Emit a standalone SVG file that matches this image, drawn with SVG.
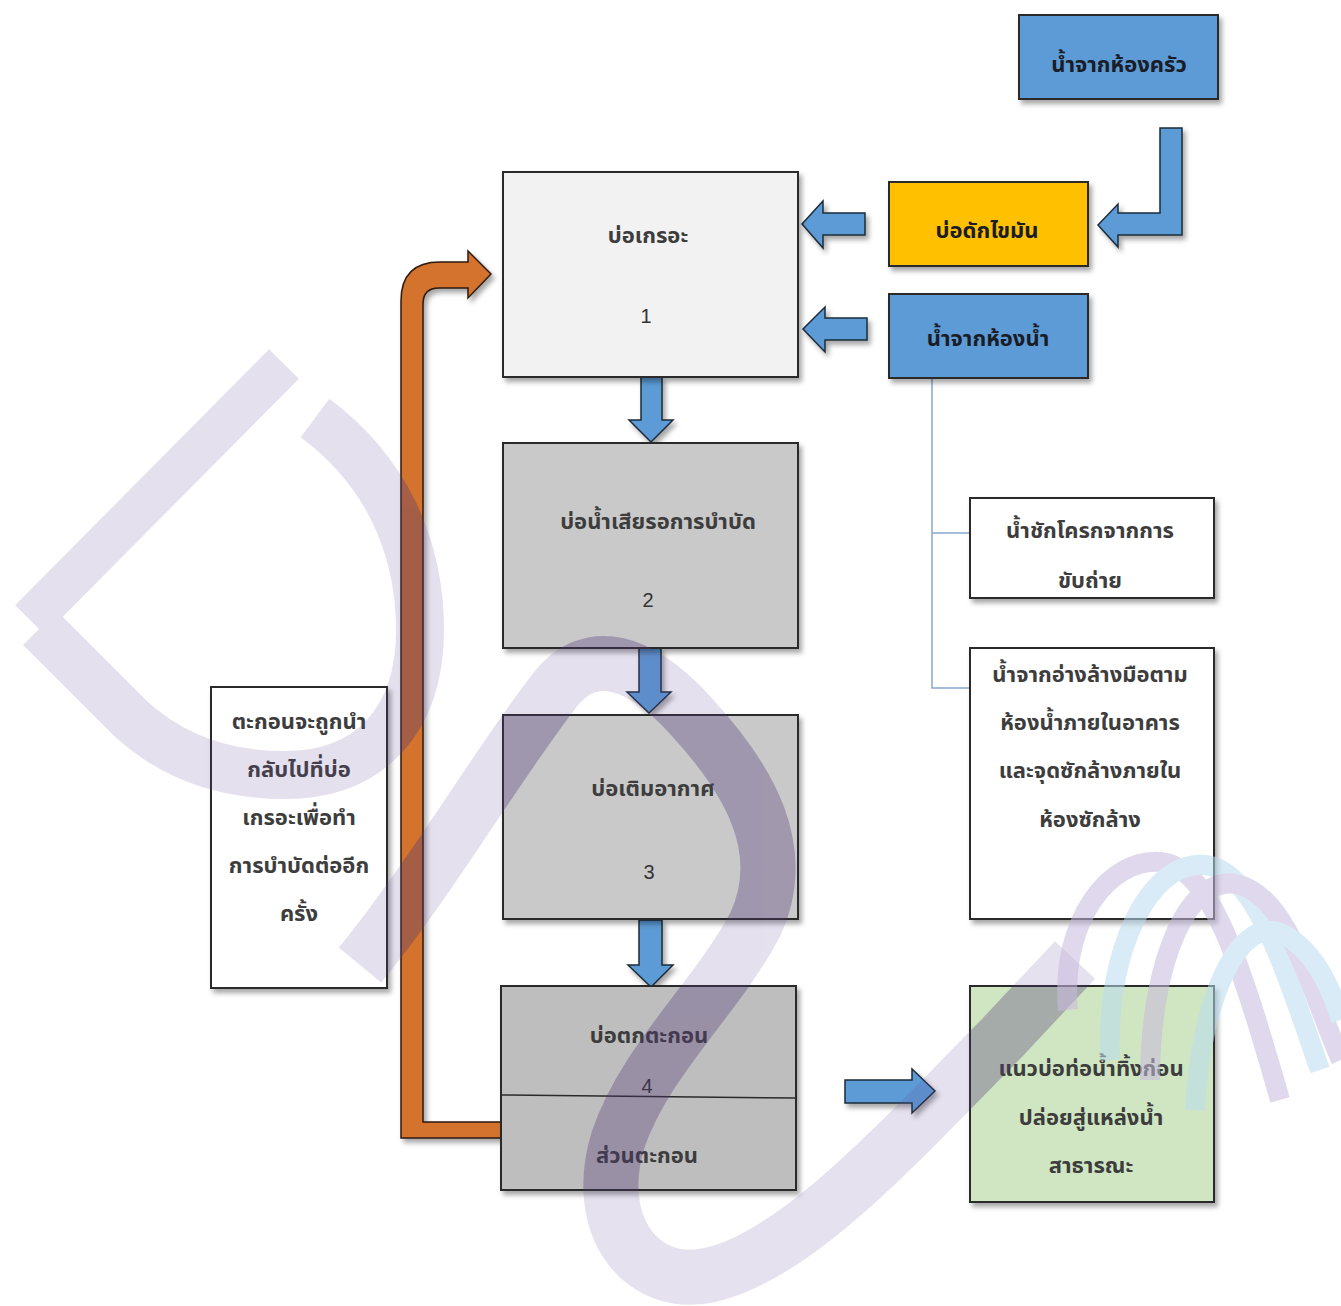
<svg xmlns="http://www.w3.org/2000/svg" xmlns:xlink="http://www.w3.org/1999/xlink" width="1341" height="1306" viewBox="0 0 1341 1306">
<style>
.box{stroke:#2a2a2a;stroke-width:2;filter:url(#sh);}
.arr{fill:#5b9bd5;stroke:#1e2b3a;stroke-width:1.5;stroke-linejoin:miter;filter:url(#sh);}
.pipe{fill:#d3732d;stroke:#2e1a0e;stroke-width:1.5;filter:url(#sh);}
.t{font-family:"Noto Sans Thai","Leelawadee UI",Tahoma,"DejaVu Sans",sans-serif;font-size:22px;font-weight:bold;fill:#3d3d3d;text-anchor:middle;}
.n{font-family:"Liberation Sans",Arial,sans-serif;font-size:20px;fill:#333;text-anchor:middle;}
.tb{fill:#1a1d28;}
.conn{fill:none;stroke:#86a8d0;stroke-width:1.5;}
</style>
<defs>
<filter id="sh" x="-10%" y="-10%" width="130%" height="130%">
<feDropShadow dx="3" dy="4" stdDeviation="2.5" flood-color="#000" flood-opacity="0.35"/>
</filter>
<clipPath id="boxclip">
<rect x="503" y="443" width="295" height="205"/>
<rect x="503" y="715" width="295" height="204"/>
<rect x="501" y="986" width="295" height="204"/>
<rect x="970" y="986" width="244" height="216"/>
<rect x="401" y="250" width="22" height="890"/>
<rect x="401" y="1122" width="100" height="16"/>
</clipPath>
<g id="wmShapes" fill="none">
<path d="M 284,364 L 30,620" stroke-width="42"/>
<path d="M 315,418 C 385,470 420,545 420,630 C 420,720 370,775 285,775 C 220,775 170,755 130,718 L 40,628" stroke-width="48"/>
<path d="M 360,965 C 430,880 500,760 555,690 C 590,645 640,660 690,715 C 750,780 790,850 755,925 C 715,1000 645,1060 618,1140 C 592,1225 640,1290 710,1275 C 800,1255 910,1130 1000,1040 L 1075,960" stroke-width="55"/>
</g>
</defs>
<rect width="1341" height="1306" fill="#ffffff"/>

<g id="connectors">
<path class="conn" d="M 932,378 V 688 H 969 M 932,533 H 969"/>
<polygon id="arrow-1-2" class="arr" points="641,377 662,377 662,420 673,420 651,442 629,420 641,420"/>
<polygon id="arrow-2-3" class="arr" points="639,648 661,648 661,692 671,692 649,713 627,692 639,692"/>
<polygon id="arrow-3-4" class="arr" points="639,920 662,920 662,965 673,965 651,987 628,965 639,965"/>
<polygon id="arrow-grease-1" class="arr" points="865,213 865,235 823,235 823,248 802,224 823,201 823,213"/>
<polygon id="arrow-bath-1" class="arr" points="867,318 867,340 825,340 825,352 803,329 825,307 825,318"/>
<polygon id="arrow-4-out" class="arr" points="845,1080 912,1080 912,1069 935,1091 912,1113 912,1103 845,1103"/>
<polygon id="arrow-kitchen-grease" class="arr" points="1160,128 1182,128 1182,235 1118,235 1118,247 1098,225 1118,204 1118,213 1160,213"/>
<path id="sludge-return" class="pipe" d="M 401,1138 L 501,1138 L 501,1122 L 423,1122 L 423,304 Q 423,288 439,288 L 468,288 L 468,298 L 491,274 L 468,251 L 468,262 L 440,262 Q 401,262 401,301 Z"/>
</g>

<g id="node-kitchen">
<rect class="box" x="1019" y="15" width="199" height="84" fill="#5b9bd5"/>
<text class="t tb" x="1119" y="72">น้ำจากห้องครัว</text>
</g>
<g id="node-grease">
<rect class="box" x="889" y="182" width="199" height="84" fill="#ffc000"/>
<text class="t tb" x="987" y="238">บ่อดักไขมัน</text>
</g>
<g id="node-bathroom">
<rect class="box" x="889" y="294" width="199" height="84" fill="#5b9bd5"/>
<text class="t tb" x="988" y="346">น้ำจากห้องน้ำ</text>
</g>
<g id="node-1">
<rect class="box" x="503" y="172" width="295" height="205" fill="#f2f2f2"/>
<text class="t" x="648" y="243">บ่อเกรอะ</text>
<text class="n" x="646" y="323">1</text>
</g>
<g id="node-2">
<rect class="box" x="503" y="443" width="295" height="205" fill="#c9c9c9"/>
<text class="t" x="658" y="529">บ่อน้ำเสียรอการบำบัด</text>
<text class="n" x="648" y="607">2</text>
</g>
<g id="node-3">
<rect class="box" x="503" y="715" width="295" height="204" fill="#c9c9c9"/>
<text class="t" x="653" y="796">บ่อเติมอากาศ</text>
<text class="n" x="649" y="879">3</text>
</g>
<g id="node-4">
<rect class="box" x="501" y="986" width="295" height="204" fill="#bebebe"/>
<line x1="501" y1="1095" x2="796" y2="1098" stroke="#2a2a2a" stroke-width="1.5"/>
<text class="t" x="649" y="1043">บ่อตกตะกอน</text>
<text class="n" x="647" y="1093">4</text>
<text class="t" x="647" y="1163">ส่วนตะกอน</text>
</g>
<g id="node-toilet">
<rect class="box" x="970" y="498" width="244" height="100" fill="#ffffff"/>
<text class="t" x="1090" y="538">น้ำชักโครกจากการ</text>
<text class="t" x="1090" y="588">ขับถ่าย</text>
</g>
<g id="node-sink">
<rect class="box" x="970" y="648" width="244" height="271" fill="#ffffff"/>
<text class="t" x="1090" y="682">น้ำจากอ่างล้างมือตาม</text>
<text class="t" x="1090" y="730">ห้องน้ำภายในอาคาร</text>
<text class="t" x="1090" y="778">และจุดซักล้างภายใน</text>
<text class="t" x="1090" y="827">ห้องซักล้าง</text>
</g>
<g id="node-note">
<rect class="box" x="211" y="687" width="176" height="301" fill="#ffffff"/>
<text class="t" x="299" y="729">ตะกอนจะถูกนำ</text>
<text class="t" x="299" y="777">กลับไปที่บ่อ</text>
<text class="t" x="299" y="825">เกรอะเพื่อทำ</text>
<text class="t" x="299" y="873">การบำบัดต่ออีก</text>
<text class="t" x="299" y="921">ครั้ง</text>
</g>
<g id="node-outlet">
<rect class="box" x="970" y="986" width="244" height="216" fill="#d0e6c3"/>
<text class="t" x="1091" y="1076">แนวบ่อท่อน้ำทิ้งก่อน</text>
<text class="t" x="1091" y="1125">ปล่อยสู่แหล่งน้ำ</text>
<text class="t" x="1091" y="1173">สาธารณะ</text>
</g>

<g id="watermark">
<use xlink:href="#wmShapes" href="#wmShapes" stroke="#6a4c9c" opacity="0.17"/>
<use xlink:href="#wmShapes" href="#wmShapes" stroke="#3f2a60" opacity="0.2" clip-path="url(#boxclip)"/>
<g fill="none" stroke-width="20" opacity="0.55">
<path d="M 1068,1010 C 1060,920 1110,858 1160,862 C 1210,866 1240,960 1280,1100" stroke="#c8bade"/>
<path d="M 1110,1060 C 1105,950 1150,860 1205,865 C 1255,870 1285,970 1320,1070" stroke="#b9dcef"/>
<path d="M 1150,1080 C 1150,960 1190,870 1240,885 C 1290,900 1310,990 1341,1060" stroke="#c8bade"/>
<path d="M 1195,1110 C 1200,1000 1240,910 1285,935 C 1320,955 1335,1000 1341,1020" stroke="#b9dcef"/>
</g>
</g>
</svg>
